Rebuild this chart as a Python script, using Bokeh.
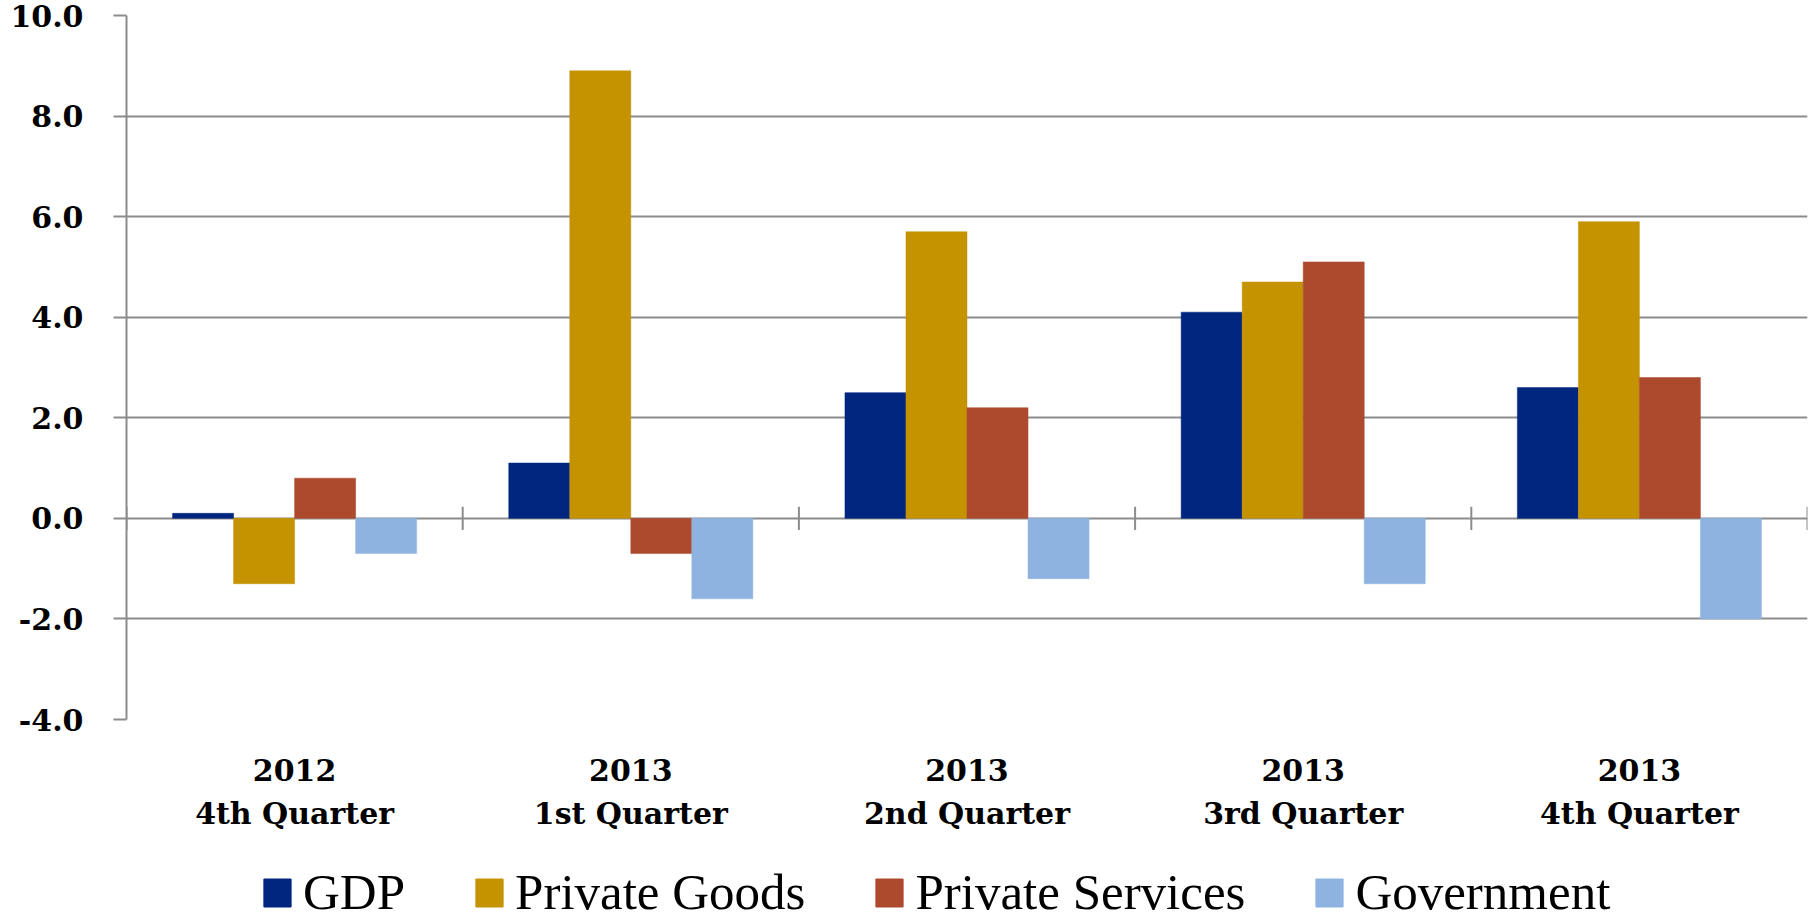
from bokeh.plotting import figure
from bokeh.layouts import column
from bokeh.models import (ColumnDataSource, FactorRange, Range1d, FixedTicker,
                          NumeralTickFormatter, Legend, LegendItem)
from bokeh.transform import dodge
from bokeh.embed import file_html
from bokeh.resources import INLINE

# ---- data ----
years = ["2012", "2013", "2013", "2013", "2013"]
quarters = ["4th Quarter", "1st Quarter", "2nd Quarter", "3rd Quarter", "4th Quarter"]
gdp = [0.1, 1.1, 2.5, 4.1, 2.6]
private_goods = [-1.3, 8.9, 5.7, 4.7, 5.9]
private_services = [0.8, -0.7, 2.2, 5.1, 2.8]
government = [-0.7, -1.6, -1.2, -1.3, -2.0]
series_names = ["GDP", "Private Goods", "Private Services", "Government"]
y_ticks = [-4, -2, 0, 2, 4, 6, 8, 10]

colors = ["#00267F", "#C59300", "#AD4A2E", "#8EB3E1"]
cats = [f"{y}\n{q}" for y, q in zip(years, quarters)]

src = ColumnDataSource(dict(cat=cats, gdp=gdp, pg=private_goods,
                            ps=private_services, gov=government,
                            tick_lo=[-0.23] * len(cats), tick_hi=[0.23] * len(cats)))

LEG_H = 70
p = figure(width=1814, height=922 - LEG_H, output_backend="svg", toolbar_location=None,
           x_range=FactorRange(*cats, range_padding=0, factor_padding=0),
           y_range=Range1d(-4, 10))
p.min_border_left = 126
p.min_border_right = 7
p.min_border_top = 15
p.min_border_bottom = 922 - LEG_H - 719
p.outline_line_color = None
p.background_fill_color = "white"
p.border_fill_color = "white"

grid_col = "#8C8C8C"
p.xgrid.grid_line_color = None
p.ygrid.grid_line_color = grid_col
p.ygrid.grid_line_width = 2
p.ygrid.ticker = FixedTicker(ticks=y_ticks)

p.yaxis.ticker = FixedTicker(ticks=y_ticks)
p.yaxis.formatter = NumeralTickFormatter(format="0.0")
p.yaxis.axis_line_color = grid_col
p.yaxis.axis_line_width = 2
p.yaxis.major_tick_line_color = grid_col
p.yaxis.major_tick_line_width = 2
p.yaxis.major_tick_out = 13
p.yaxis.major_tick_in = 0
p.yaxis.minor_tick_line_color = None
p.yaxis.major_label_standoff = 30
p.yaxis.major_label_text_font = "DejaVu Serif"
p.yaxis.major_label_text_font_style = "bold"
p.yaxis.major_label_text_font_size = "30px"
p.yaxis.major_label_text_color = "black"

p.xaxis.axis_line_color = None
p.xaxis.major_tick_line_color = None
p.xaxis.minor_tick_line_color = None
p.xaxis.major_label_standoff = 27
p.xaxis.major_label_text_font = "DejaVu Serif"
p.xaxis.major_label_text_font_style = "bold"
p.xaxis.major_label_text_font_size = "30px"
p.xaxis.major_label_text_color = "black"
p.xaxis.major_label_text_line_height = 1.25

bw = 0.1815
offs = [-1.5 * bw, -0.5 * bw, 0.5 * bw, 1.5 * bw]
fields = ["gdp", "pg", "ps", "gov"]
for field, off, col in zip(fields, offs, colors):
    p.vbar(x=dodge("cat", off, range=p.x_range), top=field, bottom=0, width=bw,
           source=src, fill_color=col, line_color=col, line_width=0.5)

# category boundary ticks on the zero line
p.segment(x0=dodge("cat", -0.5, range=p.x_range), x1=dodge("cat", -0.5, range=p.x_range),
          y0="tick_lo", y1="tick_hi", source=src, line_color=grid_col, line_width=2)
last = ColumnDataSource(dict(cat=[cats[-1]], lo=[-0.23], hi=[0.23]))
p.segment(x0=dodge("cat", 0.5, range=p.x_range), x1=dodge("cat", 0.5, range=p.x_range),
          y0="lo", y1="hi", source=last, line_color=grid_col, line_width=2)

# ---- legend strip (bars drawn off-range so only the legend shows) ----
lf = figure(width=1814, height=LEG_H, output_backend="svg", toolbar_location=None,
            x_range=FactorRange(*cats, range_padding=0, factor_padding=0),
            y_range=Range1d(100, 101),
            x_axis_type=None, y_axis_type=None, min_border=0)
lf.outline_line_color = None
lf.xgrid.visible = False
lf.ygrid.visible = False
leg_renderers = []
for field, col in zip(fields, colors):
    r = lf.vbar(x="cat", top=field, bottom=0, width=bw, source=src,
                fill_color=col, line_color=col)
    leg_renderers.append(r)

legend = Legend(items=[LegendItem(label=n, renderers=[r]) for n, r in zip(series_names, leg_renderers)],
                orientation="horizontal", location=(134, 1),
                glyph_width=34, glyph_height=35, label_standoff=9, spacing=67,
                padding=0, margin=0, border_line_color=None, background_fill_alpha=0,
                label_text_font="Liberation Serif", label_text_font_size="51px",
                label_text_color="black")
lf.add_layout(legend, "center")

open("out.html", "w").write(file_html(column(p, lf, spacing=0), INLINE))
